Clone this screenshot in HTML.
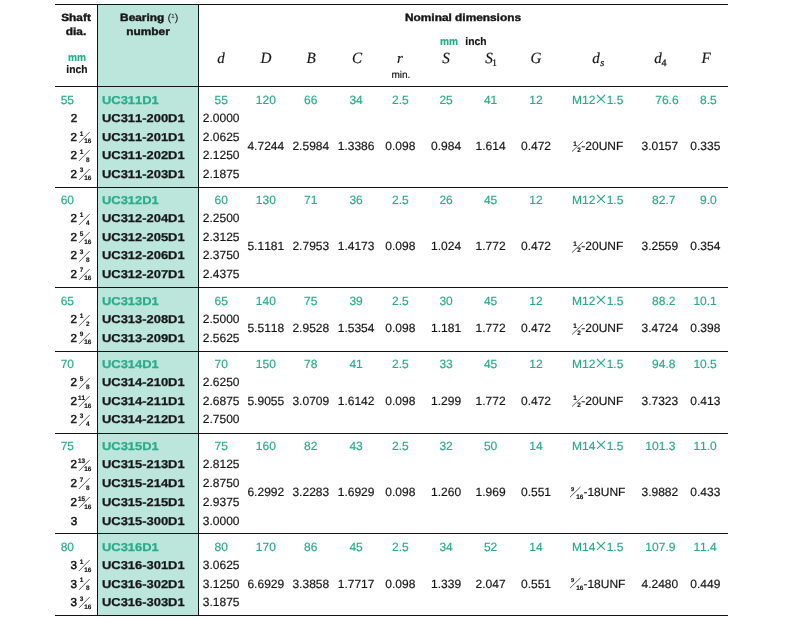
<!DOCTYPE html>
<html><head><meta charset="utf-8"><title>Bearing table</title>
<style>
html,body{margin:0;padding:0;background:#fff;}
body{width:790px;height:619px;position:relative;overflow:hidden;font-family:"Liberation Sans",sans-serif;color:#161616;}
#pg{position:absolute;left:0;top:0;width:790px;height:619px;will-change:transform;}
.t{position:absolute;white-space:nowrap;font-size:12px;line-height:0;height:0;letter-spacing:0;font-kerning:none;font-variant-ligatures:none;text-rendering:geometricPrecision;-webkit-text-stroke:0.18px currentColor;}
.g{color:#2bab8a;}
.k-b{font-weight:bold;}
.k-si{font-family:"Liberation Serif",serif;font-style:italic;}
.k-s{font-family:"Liberation Serif",serif;}
.m{-webkit-text-stroke:0.55px currentColor;}
.hb{-webkit-text-stroke:0.4px currentColor;}
.f{-webkit-text-stroke:0.15px currentColor;}
.bw{-webkit-text-stroke:0.25px currentColor;}
.hl{position:absolute;height:1px;background:#141414;}
.vl{position:absolute;width:1px;background:#141414;}
.fill{position:absolute;background:#bce5dc;}
.sl{position:absolute;overflow:visible;}
</style></head><body><div id="pg">
<div class="fill" style="left:98px;top:5px;width:100px;height:610px"></div>
<div class="hl" style="left:55px;top:4px;width:673px"></div>
<div class="hl" style="left:55px;top:86px;width:673px"></div>
<div class="hl" style="left:55px;top:187px;width:673px"></div>
<div class="hl" style="left:55px;top:287px;width:673px"></div>
<div class="hl" style="left:55px;top:351px;width:673px"></div>
<div class="hl" style="left:55px;top:433px;width:673px"></div>
<div class="hl" style="left:55px;top:533px;width:673px"></div>
<div class="hl" style="left:55px;top:615px;width:673px"></div>
<div class="vl" style="left:97px;top:4px;height:612px"></div>
<div class="vl" style="left:198px;top:4px;height:612px"></div>
<svg class="sl" style="left:596.10px;top:94.40px" width="10.00" height="9.80"><path d="M1 1 L9.00 8.80 M9.00 1 L1 8.80" stroke="#2bab8a" stroke-width="1.05" fill="none"/></svg>
<svg class="sl" style="left:78.00px;top:130.90px" width="12.70" height="12.90"><line x1="1.00" y1="11.90" x2="11.70" y2="1.00" stroke="#161616" stroke-width="0.7"/></svg>
<svg class="sl" style="left:78.00px;top:149.40px" width="12.70" height="12.90"><line x1="1.00" y1="11.90" x2="11.70" y2="1.00" stroke="#161616" stroke-width="0.7"/></svg>
<svg class="sl" style="left:78.00px;top:167.90px" width="12.70" height="12.90"><line x1="1.00" y1="11.90" x2="11.70" y2="1.00" stroke="#161616" stroke-width="0.7"/></svg>
<svg class="sl" style="left:571.10px;top:140.45px" width="13.10" height="12.50"><line x1="1.00" y1="11.50" x2="12.10" y2="1.00" stroke="#161616" stroke-width="0.7"/></svg>
<svg class="sl" style="left:596.10px;top:194.40px" width="10.00" height="9.80"><path d="M1 1 L9.00 8.80 M9.00 1 L1 8.80" stroke="#2bab8a" stroke-width="1.05" fill="none"/></svg>
<svg class="sl" style="left:78.00px;top:212.70px" width="12.70" height="12.90"><line x1="1.00" y1="11.90" x2="11.70" y2="1.00" stroke="#161616" stroke-width="0.7"/></svg>
<svg class="sl" style="left:78.00px;top:231.10px" width="12.70" height="12.90"><line x1="1.00" y1="11.90" x2="11.70" y2="1.00" stroke="#161616" stroke-width="0.7"/></svg>
<svg class="sl" style="left:78.00px;top:249.50px" width="12.70" height="12.90"><line x1="1.00" y1="11.90" x2="11.70" y2="1.00" stroke="#161616" stroke-width="0.7"/></svg>
<svg class="sl" style="left:78.00px;top:267.90px" width="12.70" height="12.90"><line x1="1.00" y1="11.90" x2="11.70" y2="1.00" stroke="#161616" stroke-width="0.7"/></svg>
<svg class="sl" style="left:571.10px;top:240.60px" width="13.10" height="12.50"><line x1="1.00" y1="11.50" x2="12.10" y2="1.00" stroke="#161616" stroke-width="0.7"/></svg>
<svg class="sl" style="left:596.10px;top:295.40px" width="10.00" height="9.80"><path d="M1 1 L9.00 8.80 M9.00 1 L1 8.80" stroke="#2bab8a" stroke-width="1.05" fill="none"/></svg>
<svg class="sl" style="left:78.00px;top:313.50px" width="12.70" height="12.90"><line x1="1.00" y1="11.90" x2="11.70" y2="1.00" stroke="#161616" stroke-width="0.7"/></svg>
<svg class="sl" style="left:78.00px;top:331.90px" width="12.70" height="12.90"><line x1="1.00" y1="11.90" x2="11.70" y2="1.00" stroke="#161616" stroke-width="0.7"/></svg>
<svg class="sl" style="left:571.10px;top:323.00px" width="13.10" height="12.50"><line x1="1.00" y1="11.50" x2="12.10" y2="1.00" stroke="#161616" stroke-width="0.7"/></svg>
<svg class="sl" style="left:596.10px;top:358.40px" width="10.00" height="9.80"><path d="M1 1 L9.00 8.80 M9.00 1 L1 8.80" stroke="#2bab8a" stroke-width="1.05" fill="none"/></svg>
<svg class="sl" style="left:78.00px;top:376.50px" width="12.70" height="12.90"><line x1="1.00" y1="11.90" x2="11.70" y2="1.00" stroke="#161616" stroke-width="0.7"/></svg>
<svg class="sl" style="left:78.00px;top:395.00px" width="12.70" height="12.90"><line x1="1.00" y1="11.90" x2="11.70" y2="1.00" stroke="#161616" stroke-width="0.7"/></svg>
<svg class="sl" style="left:78.00px;top:413.50px" width="12.70" height="12.90"><line x1="1.00" y1="11.90" x2="11.70" y2="1.00" stroke="#161616" stroke-width="0.7"/></svg>
<svg class="sl" style="left:571.10px;top:395.30px" width="13.10" height="12.50"><line x1="1.00" y1="11.50" x2="12.10" y2="1.00" stroke="#161616" stroke-width="0.7"/></svg>
<svg class="sl" style="left:596.10px;top:440.40px" width="10.00" height="9.80"><path d="M1 1 L9.00 8.80 M9.00 1 L1 8.80" stroke="#2bab8a" stroke-width="1.05" fill="none"/></svg>
<svg class="sl" style="left:78.00px;top:458.62px" width="12.70" height="12.90"><line x1="1.00" y1="11.90" x2="11.70" y2="1.00" stroke="#161616" stroke-width="0.7"/></svg>
<svg class="sl" style="left:78.00px;top:477.34px" width="12.70" height="12.90"><line x1="1.00" y1="11.90" x2="11.70" y2="1.00" stroke="#161616" stroke-width="0.7"/></svg>
<svg class="sl" style="left:78.00px;top:496.06px" width="12.70" height="12.90"><line x1="1.00" y1="11.90" x2="11.70" y2="1.00" stroke="#161616" stroke-width="0.7"/></svg>
<svg class="sl" style="left:569.30px;top:486.30px" width="12.40" height="12.10"><line x1="1.00" y1="11.10" x2="11.40" y2="1.00" stroke="#161616" stroke-width="0.7"/></svg>
<svg class="sl" style="left:596.10px;top:541.40px" width="10.00" height="9.80"><path d="M1 1 L9.00 8.80 M9.00 1 L1 8.80" stroke="#2bab8a" stroke-width="1.05" fill="none"/></svg>
<svg class="sl" style="left:78.00px;top:559.30px" width="12.70" height="12.90"><line x1="1.00" y1="11.90" x2="11.70" y2="1.00" stroke="#161616" stroke-width="0.7"/></svg>
<svg class="sl" style="left:78.00px;top:577.80px" width="12.70" height="12.90"><line x1="1.00" y1="11.90" x2="11.70" y2="1.00" stroke="#161616" stroke-width="0.7"/></svg>
<svg class="sl" style="left:78.00px;top:596.30px" width="12.70" height="12.90"><line x1="1.00" y1="11.90" x2="11.70" y2="1.00" stroke="#161616" stroke-width="0.7"/></svg>
<svg class="sl" style="left:569.30px;top:577.40px" width="12.40" height="12.10"><line x1="1.00" y1="11.10" x2="11.40" y2="1.00" stroke="#161616" stroke-width="0.7"/></svg>
<span class="t k-b hb" style="left:76.30px;top:18px;transform:translateX(-50%) scaleX(1.13);font-size:10.5px;">Shaft</span>
<span class="t k-b hb" style="left:76.30px;top:32px;transform:translateX(-50%) scaleX(1.13);font-size:10.5px;">dia.</span>
<span class="t k-b g md" style="left:76.70px;top:58px;transform:translateX(-50%) scaleX(0.92);font-size:11px;">mm</span>
<span class="t k-b md" style="left:76.60px;top:70px;transform:translateX(-50%) scaleX(0.94);font-size:11px;">inch</span>
<span class="t k-b hb" style="left:148.50px;top:18px;transform:translateX(-50%) scaleX(1.13);font-size:10.5px;">Bearing <span style="font-weight:normal;-webkit-text-stroke:0;letter-spacing:-0.4px">(<span style="font-size:6px;position:relative;top:-3px">1</span>)</span></span>
<span class="t k-b hb" style="left:148.00px;top:32px;transform:translateX(-50%) scaleX(1.13);font-size:10.5px;">number</span>
<span class="t k-b hb" style="left:463.20px;top:18px;transform:translateX(-50%) scaleX(1.13);font-size:10.5px;">Nominal dimensions</span>
<span class="t k-b g md" style="left:449.10px;top:42px;transform:translateX(-50%) scaleX(0.92);font-size:11px;">mm</span>
<span class="t k-b md" style="left:475.50px;top:42px;transform:translateX(-50%) scaleX(0.94);font-size:11px;">inch</span>
<span class="t k-si" style="left:221.00px;top:59px;transform:translateX(-50%);font-size:15px;">d</span>
<span class="t k-si" style="left:265.70px;top:59px;transform:translateX(-50%) scaleX(0.97);font-size:15.6px;">D</span>
<span class="t k-si" style="left:311.00px;top:59px;transform:translateX(-50%) scaleX(0.97);font-size:15.6px;">B</span>
<span class="t k-si" style="left:356.80px;top:59px;transform:translateX(-50%) scaleX(0.97);font-size:15.6px;">C</span>
<span class="t k-si" style="left:400.00px;top:59px;transform:translateX(-50%);font-size:15px;">r</span>
<span class="t k-si" style="left:446.00px;top:59px;transform:translateX(-50%) scaleX(0.97);font-size:15.6px;">S</span>
<span class="t k-si" style="left:489.00px;top:59px;transform:translateX(-50%) scaleX(0.97);font-size:15.6px;">S</span>
<span class="t k-si" style="left:536.30px;top:59px;transform:translateX(-50%) scaleX(0.97);font-size:15.6px;">G</span>
<span class="t k-si" style="left:595.90px;top:59px;transform:translateX(-50%);font-size:15px;">d</span>
<span class="t k-si" style="left:658.00px;top:59px;transform:translateX(-50%);font-size:15px;">d</span>
<span class="t k-si" style="left:705.50px;top:59px;transform:translateX(-50%) scaleX(0.97);font-size:15.6px;">F</span>
<span class="t" style="left:400.90px;top:76px;transform:translateX(-50%);font-size:10px;">min.</span>
<span class="t k-s" style="left:491.90px;top:64px;font-size:10px;-webkit-text-stroke:0.2px currentColor;">1</span>
<span class="t k-si" style="left:600.20px;top:64px;font-size:10.5px;-webkit-text-stroke:0.25px currentColor;">s</span>
<span class="t k-s" style="left:661.40px;top:64px;font-size:10px;-webkit-text-stroke:0.25px currentColor;">4</span>
<span class="t g" style="left:60.70px;top:100px;">55</span>
<span class="t k-b bw g" style="left:102.30px;top:101px;transform:scaleX(1.135);transform-origin:0 0;font-size:11.4px;">UC311D1</span>
<span class="t g" style="left:221.30px;top:100px;transform:translateX(-50%);">55</span>
<span class="t g" style="left:265.80px;top:100px;transform:translateX(-50%);">120</span>
<span class="t g" style="left:310.80px;top:100px;transform:translateX(-50%);">66</span>
<span class="t g" style="left:356.10px;top:100px;transform:translateX(-50%);">34</span>
<span class="t g" style="left:400.30px;top:100px;transform:translateX(-50%);">2.5</span>
<span class="t g" style="left:446.10px;top:100px;transform:translateX(-50%);">25</span>
<span class="t g" style="left:490.60px;top:100px;transform:translateX(-50%);">41</span>
<span class="t g" style="left:536.00px;top:100px;transform:translateX(-50%);">12</span>
<span class="t g" style="left:572.00px;top:100px;">M12</span>
<span class="t g" style="left:601.10px;top:100px;transform:translateX(-50%);opacity:0;">×</span>
<span class="t g" style="left:606.70px;top:100px;">1.5</span>
<span class="t g" style="left:678.60px;top:100px;transform:translateX(-100%);">76.6</span>
<span class="t g" style="left:716.80px;top:100px;transform:translateX(-100%);">8.5</span>
<span class="t m" style="left:73.95px;top:119px;transform:translateX(-50%);font-size:11.6px;">2</span>
<span class="t k-b bw" style="left:102.30px;top:119px;transform:scaleX(1.135);transform-origin:0 0;font-size:11.4px;">UC311-200D1</span>
<span class="t" style="left:202.80px;top:118px;">2.0000</span>
<span class="t m" style="left:73.85px;top:138px;transform:translateX(-50%);font-size:11.6px;">2</span>
<span class="t k-b f" style="left:81.50px;top:135px;transform:translateX(-50%);font-size:6.4px;">1</span>
<span class="t k-b f" style="left:87.70px;top:142px;transform:translateX(-50%);font-size:6.4px;">16</span>
<span class="t k-b bw" style="left:102.30px;top:138px;transform:scaleX(1.135);transform-origin:0 0;font-size:11.4px;">UC311-201D1</span>
<span class="t" style="left:202.80px;top:137px;">2.0625</span>
<span class="t m" style="left:73.85px;top:156px;transform:translateX(-50%);font-size:11.6px;">2</span>
<span class="t k-b f" style="left:81.50px;top:153px;transform:translateX(-50%);font-size:6.4px;">1</span>
<span class="t k-b f" style="left:87.70px;top:161px;transform:translateX(-50%);font-size:6.4px;">8</span>
<span class="t k-b bw" style="left:102.30px;top:156px;transform:scaleX(1.135);transform-origin:0 0;font-size:11.4px;">UC311-202D1</span>
<span class="t" style="left:202.80px;top:155px;">2.1250</span>
<span class="t m" style="left:73.85px;top:175px;transform:translateX(-50%);font-size:11.6px;">2</span>
<span class="t k-b f" style="left:81.50px;top:171px;transform:translateX(-50%);font-size:6.4px;">3</span>
<span class="t k-b f" style="left:87.70px;top:179px;transform:translateX(-50%);font-size:6.4px;">16</span>
<span class="t k-b bw" style="left:102.30px;top:175px;transform:scaleX(1.135);transform-origin:0 0;font-size:11.4px;">UC311-203D1</span>
<span class="t" style="left:202.80px;top:174px;">2.1875</span>
<span class="t" style="left:265.80px;top:146px;transform:translateX(-50%);">4.7244</span>
<span class="t" style="left:310.80px;top:146px;transform:translateX(-50%);">2.5984</span>
<span class="t" style="left:356.10px;top:146px;transform:translateX(-50%);">1.3386</span>
<span class="t" style="left:400.30px;top:146px;transform:translateX(-50%);">0.098</span>
<span class="t" style="left:446.10px;top:146px;transform:translateX(-50%);">0.984</span>
<span class="t" style="left:490.60px;top:146px;transform:translateX(-50%);">1.614</span>
<span class="t" style="left:536.00px;top:146px;transform:translateX(-50%);">0.472</span>
<span class="t k-b f" style="left:575.10px;top:145px;transform:translateX(-50%);font-size:6.4px;">1</span>
<span class="t k-b f" style="left:579.00px;top:151px;transform:translateX(-50%);font-size:6.4px;">2</span>
<span class="t" style="left:581.30px;top:146px;">-20UNF</span>
<span class="t" style="left:641.50px;top:146px;">3.0157</span>
<span class="t" style="left:705.30px;top:146px;transform:translateX(-50%);">0.335</span>
<span class="t g" style="left:60.70px;top:200px;">60</span>
<span class="t k-b bw g" style="left:102.30px;top:201px;transform:scaleX(1.135);transform-origin:0 0;font-size:11.4px;">UC312D1</span>
<span class="t g" style="left:221.30px;top:200px;transform:translateX(-50%);">60</span>
<span class="t g" style="left:265.80px;top:200px;transform:translateX(-50%);">130</span>
<span class="t g" style="left:310.80px;top:200px;transform:translateX(-50%);">71</span>
<span class="t g" style="left:356.10px;top:200px;transform:translateX(-50%);">36</span>
<span class="t g" style="left:400.30px;top:200px;transform:translateX(-50%);">2.5</span>
<span class="t g" style="left:446.10px;top:200px;transform:translateX(-50%);">26</span>
<span class="t g" style="left:490.60px;top:200px;transform:translateX(-50%);">45</span>
<span class="t g" style="left:536.00px;top:200px;transform:translateX(-50%);">12</span>
<span class="t g" style="left:572.00px;top:200px;">M12</span>
<span class="t g" style="left:601.10px;top:200px;transform:translateX(-50%);opacity:0;">×</span>
<span class="t g" style="left:606.70px;top:200px;">1.5</span>
<span class="t g" style="left:675.40px;top:200px;transform:translateX(-100%);">82.7</span>
<span class="t g" style="left:716.80px;top:200px;transform:translateX(-100%);">9.0</span>
<span class="t m" style="left:73.85px;top:219px;transform:translateX(-50%);font-size:11.6px;">2</span>
<span class="t k-b f" style="left:81.50px;top:216px;transform:translateX(-50%);font-size:6.4px;">1</span>
<span class="t k-b f" style="left:87.70px;top:224px;transform:translateX(-50%);font-size:6.4px;">4</span>
<span class="t k-b bw" style="left:102.30px;top:219px;transform:scaleX(1.135);transform-origin:0 0;font-size:11.4px;">UC312-204D1</span>
<span class="t" style="left:202.80px;top:218px;">2.2500</span>
<span class="t m" style="left:73.85px;top:238px;transform:translateX(-50%);font-size:11.6px;">2</span>
<span class="t k-b f" style="left:81.50px;top:235px;transform:translateX(-50%);font-size:6.4px;">5</span>
<span class="t k-b f" style="left:87.70px;top:243px;transform:translateX(-50%);font-size:6.4px;">16</span>
<span class="t k-b bw" style="left:102.30px;top:238px;transform:scaleX(1.135);transform-origin:0 0;font-size:11.4px;">UC312-205D1</span>
<span class="t" style="left:202.80px;top:237px;">2.3125</span>
<span class="t m" style="left:73.85px;top:256px;transform:translateX(-50%);font-size:11.6px;">2</span>
<span class="t k-b f" style="left:81.50px;top:253px;transform:translateX(-50%);font-size:6.4px;">3</span>
<span class="t k-b f" style="left:87.70px;top:261px;transform:translateX(-50%);font-size:6.4px;">8</span>
<span class="t k-b bw" style="left:102.30px;top:256px;transform:scaleX(1.135);transform-origin:0 0;font-size:11.4px;">UC312-206D1</span>
<span class="t" style="left:202.80px;top:255px;">2.3750</span>
<span class="t m" style="left:73.85px;top:275px;transform:translateX(-50%);font-size:11.6px;">2</span>
<span class="t k-b f" style="left:81.50px;top:271px;transform:translateX(-50%);font-size:6.4px;">7</span>
<span class="t k-b f" style="left:87.70px;top:279px;transform:translateX(-50%);font-size:6.4px;">16</span>
<span class="t k-b bw" style="left:102.30px;top:275px;transform:scaleX(1.135);transform-origin:0 0;font-size:11.4px;">UC312-207D1</span>
<span class="t" style="left:202.80px;top:274px;">2.4375</span>
<span class="t" style="left:265.80px;top:246px;transform:translateX(-50%);">5.1181</span>
<span class="t" style="left:310.80px;top:246px;transform:translateX(-50%);">2.7953</span>
<span class="t" style="left:356.10px;top:246px;transform:translateX(-50%);">1.4173</span>
<span class="t" style="left:400.30px;top:246px;transform:translateX(-50%);">0.098</span>
<span class="t" style="left:446.10px;top:246px;transform:translateX(-50%);">1.024</span>
<span class="t" style="left:490.60px;top:246px;transform:translateX(-50%);">1.772</span>
<span class="t" style="left:536.00px;top:246px;transform:translateX(-50%);">0.472</span>
<span class="t k-b f" style="left:575.10px;top:245px;transform:translateX(-50%);font-size:6.4px;">1</span>
<span class="t k-b f" style="left:579.00px;top:251px;transform:translateX(-50%);font-size:6.4px;">2</span>
<span class="t" style="left:581.30px;top:246px;">-20UNF</span>
<span class="t" style="left:641.50px;top:246px;">3.2559</span>
<span class="t" style="left:705.30px;top:246px;transform:translateX(-50%);">0.354</span>
<span class="t g" style="left:60.70px;top:301px;">65</span>
<span class="t k-b bw g" style="left:102.30px;top:302px;transform:scaleX(1.135);transform-origin:0 0;font-size:11.4px;">UC313D1</span>
<span class="t g" style="left:221.30px;top:301px;transform:translateX(-50%);">65</span>
<span class="t g" style="left:265.80px;top:301px;transform:translateX(-50%);">140</span>
<span class="t g" style="left:310.80px;top:301px;transform:translateX(-50%);">75</span>
<span class="t g" style="left:356.10px;top:301px;transform:translateX(-50%);">39</span>
<span class="t g" style="left:400.30px;top:301px;transform:translateX(-50%);">2.5</span>
<span class="t g" style="left:446.10px;top:301px;transform:translateX(-50%);">30</span>
<span class="t g" style="left:490.60px;top:301px;transform:translateX(-50%);">45</span>
<span class="t g" style="left:536.00px;top:301px;transform:translateX(-50%);">12</span>
<span class="t g" style="left:572.00px;top:301px;">M12</span>
<span class="t g" style="left:601.10px;top:301px;transform:translateX(-50%);opacity:0;">×</span>
<span class="t g" style="left:606.70px;top:301px;">1.5</span>
<span class="t g" style="left:675.40px;top:301px;transform:translateX(-100%);">88.2</span>
<span class="t g" style="left:716.80px;top:301px;transform:translateX(-100%);">10.1</span>
<span class="t m" style="left:73.85px;top:320px;transform:translateX(-50%);font-size:11.6px;">2</span>
<span class="t k-b f" style="left:81.50px;top:317px;transform:translateX(-50%);font-size:6.4px;">1</span>
<span class="t k-b f" style="left:87.70px;top:325px;transform:translateX(-50%);font-size:6.4px;">2</span>
<span class="t k-b bw" style="left:102.30px;top:320px;transform:scaleX(1.135);transform-origin:0 0;font-size:11.4px;">UC313-208D1</span>
<span class="t" style="left:202.80px;top:319px;">2.5000</span>
<span class="t m" style="left:73.85px;top:339px;transform:translateX(-50%);font-size:11.6px;">2</span>
<span class="t k-b f" style="left:81.50px;top:335px;transform:translateX(-50%);font-size:6.4px;">9</span>
<span class="t k-b f" style="left:87.70px;top:343px;transform:translateX(-50%);font-size:6.4px;">16</span>
<span class="t k-b bw" style="left:102.30px;top:339px;transform:scaleX(1.135);transform-origin:0 0;font-size:11.4px;">UC313-209D1</span>
<span class="t" style="left:202.80px;top:338px;">2.5625</span>
<span class="t" style="left:265.80px;top:328px;transform:translateX(-50%);">5.5118</span>
<span class="t" style="left:310.80px;top:328px;transform:translateX(-50%);">2.9528</span>
<span class="t" style="left:356.10px;top:328px;transform:translateX(-50%);">1.5354</span>
<span class="t" style="left:400.30px;top:328px;transform:translateX(-50%);">0.098</span>
<span class="t" style="left:446.10px;top:328px;transform:translateX(-50%);">1.181</span>
<span class="t" style="left:490.60px;top:328px;transform:translateX(-50%);">1.772</span>
<span class="t" style="left:536.00px;top:328px;transform:translateX(-50%);">0.472</span>
<span class="t k-b f" style="left:575.10px;top:327px;transform:translateX(-50%);font-size:6.4px;">1</span>
<span class="t k-b f" style="left:579.00px;top:334px;transform:translateX(-50%);font-size:6.4px;">2</span>
<span class="t" style="left:581.30px;top:328px;">-20UNF</span>
<span class="t" style="left:641.50px;top:328px;">3.4724</span>
<span class="t" style="left:705.30px;top:328px;transform:translateX(-50%);">0.398</span>
<span class="t g" style="left:60.70px;top:364px;">70</span>
<span class="t k-b bw g" style="left:102.30px;top:365px;transform:scaleX(1.135);transform-origin:0 0;font-size:11.4px;">UC314D1</span>
<span class="t g" style="left:221.30px;top:364px;transform:translateX(-50%);">70</span>
<span class="t g" style="left:265.80px;top:364px;transform:translateX(-50%);">150</span>
<span class="t g" style="left:310.80px;top:364px;transform:translateX(-50%);">78</span>
<span class="t g" style="left:356.10px;top:364px;transform:translateX(-50%);">41</span>
<span class="t g" style="left:400.30px;top:364px;transform:translateX(-50%);">2.5</span>
<span class="t g" style="left:446.10px;top:364px;transform:translateX(-50%);">33</span>
<span class="t g" style="left:490.60px;top:364px;transform:translateX(-50%);">45</span>
<span class="t g" style="left:536.00px;top:364px;transform:translateX(-50%);">12</span>
<span class="t g" style="left:572.00px;top:364px;">M12</span>
<span class="t g" style="left:601.10px;top:364px;transform:translateX(-50%);opacity:0;">×</span>
<span class="t g" style="left:606.70px;top:364px;">1.5</span>
<span class="t g" style="left:675.40px;top:364px;transform:translateX(-100%);">94.8</span>
<span class="t g" style="left:716.80px;top:364px;transform:translateX(-100%);">10.5</span>
<span class="t m" style="left:73.85px;top:383px;transform:translateX(-50%);font-size:11.6px;">2</span>
<span class="t k-b f" style="left:81.50px;top:380px;transform:translateX(-50%);font-size:6.4px;">5</span>
<span class="t k-b f" style="left:87.70px;top:388px;transform:translateX(-50%);font-size:6.4px;">8</span>
<span class="t k-b bw" style="left:102.30px;top:383px;transform:scaleX(1.135);transform-origin:0 0;font-size:11.4px;">UC314-210D1</span>
<span class="t" style="left:202.80px;top:382px;">2.6250</span>
<span class="t m" style="left:73.85px;top:402px;transform:translateX(-50%);font-size:11.6px;">2</span>
<span class="t k-b f" style="left:81.50px;top:399px;transform:translateX(-50%);font-size:6.4px;">11</span>
<span class="t k-b f" style="left:87.70px;top:407px;transform:translateX(-50%);font-size:6.4px;">16</span>
<span class="t k-b bw" style="left:102.30px;top:402px;transform:scaleX(1.135);transform-origin:0 0;font-size:11.4px;">UC314-211D1</span>
<span class="t" style="left:202.80px;top:401px;">2.6875</span>
<span class="t m" style="left:73.85px;top:420px;transform:translateX(-50%);font-size:11.6px;">2</span>
<span class="t k-b f" style="left:81.50px;top:417px;transform:translateX(-50%);font-size:6.4px;">3</span>
<span class="t k-b f" style="left:87.70px;top:425px;transform:translateX(-50%);font-size:6.4px;">4</span>
<span class="t k-b bw" style="left:102.30px;top:420px;transform:scaleX(1.135);transform-origin:0 0;font-size:11.4px;">UC314-212D1</span>
<span class="t" style="left:202.80px;top:419px;">2.7500</span>
<span class="t" style="left:265.80px;top:401px;transform:translateX(-50%);">5.9055</span>
<span class="t" style="left:310.80px;top:401px;transform:translateX(-50%);">3.0709</span>
<span class="t" style="left:356.10px;top:401px;transform:translateX(-50%);">1.6142</span>
<span class="t" style="left:400.30px;top:401px;transform:translateX(-50%);">0.098</span>
<span class="t" style="left:446.10px;top:401px;transform:translateX(-50%);">1.299</span>
<span class="t" style="left:490.60px;top:401px;transform:translateX(-50%);">1.772</span>
<span class="t" style="left:536.00px;top:401px;transform:translateX(-50%);">0.472</span>
<span class="t k-b f" style="left:575.10px;top:399px;transform:translateX(-50%);font-size:6.4px;">1</span>
<span class="t k-b f" style="left:579.00px;top:406px;transform:translateX(-50%);font-size:6.4px;">2</span>
<span class="t" style="left:581.30px;top:401px;">-20UNF</span>
<span class="t" style="left:641.50px;top:401px;">3.7323</span>
<span class="t" style="left:705.30px;top:401px;transform:translateX(-50%);">0.413</span>
<span class="t g" style="left:60.70px;top:446px;">75</span>
<span class="t k-b bw g" style="left:102.30px;top:447px;transform:scaleX(1.135);transform-origin:0 0;font-size:11.4px;">UC315D1</span>
<span class="t g" style="left:221.30px;top:446px;transform:translateX(-50%);">75</span>
<span class="t g" style="left:265.80px;top:446px;transform:translateX(-50%);">160</span>
<span class="t g" style="left:310.80px;top:446px;transform:translateX(-50%);">82</span>
<span class="t g" style="left:356.10px;top:446px;transform:translateX(-50%);">43</span>
<span class="t g" style="left:400.30px;top:446px;transform:translateX(-50%);">2.5</span>
<span class="t g" style="left:446.10px;top:446px;transform:translateX(-50%);">32</span>
<span class="t g" style="left:490.60px;top:446px;transform:translateX(-50%);">50</span>
<span class="t g" style="left:536.00px;top:446px;transform:translateX(-50%);">14</span>
<span class="t g" style="left:572.00px;top:446px;">M14</span>
<span class="t g" style="left:601.10px;top:446px;transform:translateX(-50%);opacity:0;">×</span>
<span class="t g" style="left:606.70px;top:446px;">1.5</span>
<span class="t g" style="left:675.40px;top:446px;transform:translateX(-100%);">101.3</span>
<span class="t g" style="left:716.80px;top:446px;transform:translateX(-100%);">11.0</span>
<span class="t m" style="left:73.85px;top:465px;transform:translateX(-50%);font-size:11.6px;">2</span>
<span class="t k-b f" style="left:81.50px;top:462px;transform:translateX(-50%);font-size:6.4px;">13</span>
<span class="t k-b f" style="left:87.70px;top:470px;transform:translateX(-50%);font-size:6.4px;">16</span>
<span class="t k-b bw" style="left:102.30px;top:465px;transform:scaleX(1.135);transform-origin:0 0;font-size:11.4px;">UC315-213D1</span>
<span class="t" style="left:202.80px;top:464px;">2.8125</span>
<span class="t m" style="left:73.85px;top:484px;transform:translateX(-50%);font-size:11.6px;">2</span>
<span class="t k-b f" style="left:81.50px;top:481px;transform:translateX(-50%);font-size:6.4px;">7</span>
<span class="t k-b f" style="left:87.70px;top:489px;transform:translateX(-50%);font-size:6.4px;">8</span>
<span class="t k-b bw" style="left:102.30px;top:484px;transform:scaleX(1.135);transform-origin:0 0;font-size:11.4px;">UC315-214D1</span>
<span class="t" style="left:202.80px;top:483px;">2.8750</span>
<span class="t m" style="left:73.85px;top:503px;transform:translateX(-50%);font-size:11.6px;">2</span>
<span class="t k-b f" style="left:81.50px;top:500px;transform:translateX(-50%);font-size:6.4px;">15</span>
<span class="t k-b f" style="left:87.70px;top:508px;transform:translateX(-50%);font-size:6.4px;">16</span>
<span class="t k-b bw" style="left:102.30px;top:503px;transform:scaleX(1.135);transform-origin:0 0;font-size:11.4px;">UC315-215D1</span>
<span class="t" style="left:202.80px;top:502px;">2.9375</span>
<span class="t m" style="left:73.95px;top:522px;transform:translateX(-50%);font-size:11.6px;">3</span>
<span class="t k-b bw" style="left:102.30px;top:522px;transform:scaleX(1.135);transform-origin:0 0;font-size:11.4px;">UC315-300D1</span>
<span class="t" style="left:202.80px;top:521px;">3.0000</span>
<span class="t" style="left:265.80px;top:492px;transform:translateX(-50%);">6.2992</span>
<span class="t" style="left:310.80px;top:492px;transform:translateX(-50%);">3.2283</span>
<span class="t" style="left:356.10px;top:492px;transform:translateX(-50%);">1.6929</span>
<span class="t" style="left:400.30px;top:492px;transform:translateX(-50%);">0.098</span>
<span class="t" style="left:446.10px;top:492px;transform:translateX(-50%);">1.260</span>
<span class="t" style="left:490.60px;top:492px;transform:translateX(-50%);">1.969</span>
<span class="t" style="left:536.00px;top:492px;transform:translateX(-50%);">0.551</span>
<span class="t k-b f" style="left:572.70px;top:490px;transform:translateX(-50%);font-size:5.8px;">9</span>
<span class="t k-b f" style="left:579.80px;top:498px;transform:translateX(-50%);font-size:6.4px;">16</span>
<span class="t" style="left:583.40px;top:492px;">-18UNF</span>
<span class="t" style="left:641.50px;top:492px;">3.9882</span>
<span class="t" style="left:705.30px;top:492px;transform:translateX(-50%);">0.433</span>
<span class="t g" style="left:60.70px;top:547px;">80</span>
<span class="t k-b bw g" style="left:102.30px;top:548px;transform:scaleX(1.135);transform-origin:0 0;font-size:11.4px;">UC316D1</span>
<span class="t g" style="left:221.30px;top:547px;transform:translateX(-50%);">80</span>
<span class="t g" style="left:265.80px;top:547px;transform:translateX(-50%);">170</span>
<span class="t g" style="left:310.80px;top:547px;transform:translateX(-50%);">86</span>
<span class="t g" style="left:356.10px;top:547px;transform:translateX(-50%);">45</span>
<span class="t g" style="left:400.30px;top:547px;transform:translateX(-50%);">2.5</span>
<span class="t g" style="left:446.10px;top:547px;transform:translateX(-50%);">34</span>
<span class="t g" style="left:490.60px;top:547px;transform:translateX(-50%);">52</span>
<span class="t g" style="left:536.00px;top:547px;transform:translateX(-50%);">14</span>
<span class="t g" style="left:572.00px;top:547px;">M14</span>
<span class="t g" style="left:601.10px;top:547px;transform:translateX(-50%);opacity:0;">×</span>
<span class="t g" style="left:606.70px;top:547px;">1.5</span>
<span class="t g" style="left:675.40px;top:547px;transform:translateX(-100%);">107.9</span>
<span class="t g" style="left:716.80px;top:547px;transform:translateX(-100%);">11.4</span>
<span class="t m" style="left:73.85px;top:566px;transform:translateX(-50%);font-size:11.6px;">3</span>
<span class="t k-b f" style="left:81.50px;top:563px;transform:translateX(-50%);font-size:6.4px;">1</span>
<span class="t k-b f" style="left:87.70px;top:571px;transform:translateX(-50%);font-size:6.4px;">16</span>
<span class="t k-b bw" style="left:102.30px;top:566px;transform:scaleX(1.135);transform-origin:0 0;font-size:11.4px;">UC316-301D1</span>
<span class="t" style="left:202.80px;top:565px;">3.0625</span>
<span class="t m" style="left:73.85px;top:585px;transform:translateX(-50%);font-size:11.6px;">3</span>
<span class="t k-b f" style="left:81.50px;top:581px;transform:translateX(-50%);font-size:6.4px;">1</span>
<span class="t k-b f" style="left:87.70px;top:589px;transform:translateX(-50%);font-size:6.4px;">8</span>
<span class="t k-b bw" style="left:102.30px;top:585px;transform:scaleX(1.135);transform-origin:0 0;font-size:11.4px;">UC316-302D1</span>
<span class="t" style="left:202.80px;top:584px;">3.1250</span>
<span class="t m" style="left:73.85px;top:603px;transform:translateX(-50%);font-size:11.6px;">3</span>
<span class="t k-b f" style="left:81.50px;top:600px;transform:translateX(-50%);font-size:6.4px;">3</span>
<span class="t k-b f" style="left:87.70px;top:608px;transform:translateX(-50%);font-size:6.4px;">16</span>
<span class="t k-b bw" style="left:102.30px;top:603px;transform:scaleX(1.135);transform-origin:0 0;font-size:11.4px;">UC316-303D1</span>
<span class="t" style="left:202.80px;top:602px;">3.1875</span>
<span class="t" style="left:265.80px;top:584px;transform:translateX(-50%);">6.6929</span>
<span class="t" style="left:310.80px;top:584px;transform:translateX(-50%);">3.3858</span>
<span class="t" style="left:356.10px;top:584px;transform:translateX(-50%);">1.7717</span>
<span class="t" style="left:400.30px;top:584px;transform:translateX(-50%);">0.098</span>
<span class="t" style="left:446.10px;top:584px;transform:translateX(-50%);">1.339</span>
<span class="t" style="left:490.60px;top:584px;transform:translateX(-50%);">2.047</span>
<span class="t" style="left:536.00px;top:584px;transform:translateX(-50%);">0.551</span>
<span class="t k-b f" style="left:572.70px;top:581px;transform:translateX(-50%);font-size:5.8px;">9</span>
<span class="t k-b f" style="left:579.80px;top:589px;transform:translateX(-50%);font-size:6.4px;">16</span>
<span class="t" style="left:583.40px;top:584px;">-18UNF</span>
<span class="t" style="left:641.50px;top:584px;">4.2480</span>
<span class="t" style="left:705.30px;top:584px;transform:translateX(-50%);">0.449</span>
</div></body></html>
